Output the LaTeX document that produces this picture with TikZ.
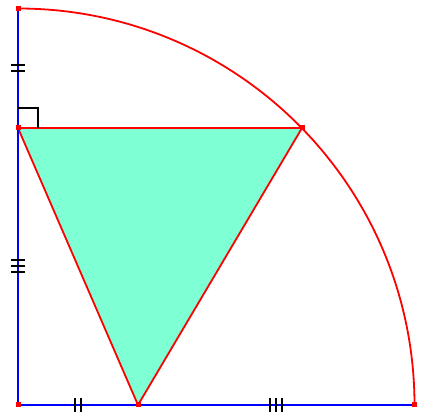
\documentclass[tikz,border=0pt]{standalone}
\usepackage{tikz}
\definecolor{aqua}{RGB}{127,255,212}
\tikzset{
  pt/.style={fill=red,inner sep=0pt,minimum size=5pt,rectangle},
  blueline/.style={blue,line width=2pt},
  redline/.style={red,line width=1.8pt},
  tick/.style={black,line width=1.8pt}
}

\begin{document}
\begin{tikzpicture}[x=1pt,y=1pt]
\useasboundingbox (-18,-7) rectangle (403,405);
\coordinate (O) at (0,0);
\coordinate (A) at (0,396.5);
\coordinate (B) at (0,277);
\coordinate (C) at (284,277);
\coordinate (D) at (120,0);
\coordinate (E) at (396.5,0);

\fill[aqua] (B) -- (C) -- (D) -- cycle;
\draw[redline,line join=round] (B) to (C) to (D) to (B);

\draw[blueline] (A) to (O) to (E);
\draw[redline] (E) arc (0:90:396.5);

% equal marks
\coordinate (m1) at (0,337);
\coordinate (m2) at (0,139);
\coordinate (m3) at (60,0);
\coordinate (m4) at (258,0);
\draw[tick] ([shift={(-7,3)}]m1) to ++(14,0);
\draw[tick] ([shift={(-7,-3)}]m1) to ++(14,0);
\draw[tick] ([shift={(-7,6)}]m2) to ++(14,0);
\draw[tick] ([shift={(-7,0)}]m2) to ++(14,0);
\draw[tick] ([shift={(-7,-6)}]m2) to ++(14,0);
\draw[tick] ([shift={(-3,-7)}]m3) to ++(0,14);
\draw[tick] ([shift={(3,-7)}]m3) to ++(0,14);
\draw[tick] ([shift={(-6,-7)}]m4) to ++(0,14);
\draw[tick] ([shift={(0,-7)}]m4) to ++(0,14);
\draw[tick] ([shift={(6,-7)}]m4) to ++(0,14);

% right angle
\draw[tick] ([yshift=20]B) to ++(20,0) to ++(0,-20);

\node[pt] (a) at (A) {};
\node[pt] (b) at (B) {};
\node[pt] (c) at (C) {};
\node[pt] (d) at (D) {};
\node[pt] (e) at (E) {};
\node[pt] (o) at (O) {};
\end{tikzpicture}
\end{document}
